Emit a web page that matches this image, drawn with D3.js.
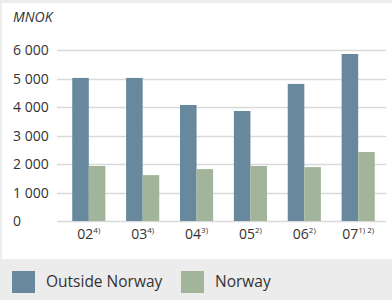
<!DOCTYPE html>
<html>
<head>
<meta charset="utf-8">
<script src="https://cdn.jsdelivr.net/npm/d3@7"></script>
<style>
	body { margin: 0; background: #ececec; }
	svg { display: block; font-family: "Open Sans", "Noto Sans", sans-serif; }
</style>
</head>
<body>
<div id="chart"></div>
<script>
const years = ["02", "03", "04", "05", "06", "07"]
const notes = ["4)", "4)", "3)", "2)", "2)", "1) 2)"]
const outsideNorway = [5020, 5020, 4070, 3860, 4810, 5860]
const norway = [1930, 1610, 1820, 1930, 1890, 2420]
const yTicks = [0, 1000, 2000, 3000, 4000, 5000, 6000]
const seriesNames = ["Outside Norway", "Norway"]
const colors = ["#67889d", "#a2b59a"]

const params = {
	width: 392,
	height: 300,
	plotLeft: 62,
	plotRight: 385,
	gridLeft: 57,
	gridRight: 386,
	top: 50,
	bottom: 221
}

const svg = d3.select("#chart")
	.append("svg")
	.attr("width", params.width)
	.attr("height", params.height)

// background panels
svg.append("rect")
	.attr("x", 0).attr("y", 0)
	.attr("width", params.width).attr("height", params.height)
	.attr("fill", "#ececec")
svg.append("rect")
	.attr("x", 2).attr("y", 3)
	.attr("width", params.width - 2).attr("height", 256)
	.attr("fill", "#ffffff")

const xScale = d3.scaleBand()
	.domain(years)
	.range([params.plotLeft, params.plotRight])
	.paddingInner(0.385)
	.paddingOuter(0.19)

const yScale = d3.scaleLinear()
	.domain([0, 6000])
	.range([params.bottom, params.top])

// gridlines
svg.append("g")
	.selectAll("line")
	.data(yTicks)
	.join("line")
	.attr("x1", params.gridLeft)
	.attr("x2", params.gridRight)
	.attr("y1", d => Math.round(yScale(d)) + 0.5)
	.attr("y2", d => Math.round(yScale(d)) + 0.5)
	.attr("stroke", "#d9d9d9")
	.attr("stroke-width", 1.5)

// y tick labels
svg.append("g")
	.selectAll("text")
	.data(yTicks)
	.join("text")
	.attr("x", 13)
	.attr("y", d => yScale(d) + 5)
	.attr("font-size", 14)
	.attr("fill", "#333")
	.text(d => d3.format(",")(d).replace(",", " "))

svg.append("text")
	.attr("x", 13)
	.attr("y", 22)
	.attr("font-size", 14)
	.attr("font-style", "italic")
	.attr("fill", "#333")
	.text("MNOK")

// bars
const sub = d3.scaleBand()
	.domain([0, 1])
	.range([0, xScale.bandwidth()])

const series = [outsideNorway, norway]
series.forEach((vals, s) => {
	svg.append("g")
		.selectAll("rect")
		.data(vals)
		.join("rect")
		.attr("x", (d, i) => xScale(years[i]) + sub(s))
		.attr("width", sub.bandwidth())
		.attr("y", d => yScale(d))
		.attr("height", d => yScale(0) - yScale(d))
		.attr("fill", colors[s])
})

// x labels with superscript notes
const xl = svg.append("g")
	.selectAll("text")
	.data(years)
	.join("text")
	.attr("x", d => xScale(d) + xScale.bandwidth() / 2)
	.attr("y", 239)
	.attr("font-size", 14)
	.attr("fill", "#333")
	.attr("text-anchor", "middle")
xl.append("tspan").text(d => d)
xl.append("tspan")
	.attr("font-size", 8)
	.attr("dy", -6)
	.text((d, i) => notes[i])

// legend
const legend = svg.append("g")
	.selectAll("g")
	.data(seriesNames)
	.join("g")
	.attr("transform", (d, i) => `translate(${[12, 181][i]}, 271)`)
legend.append("rect")
	.attr("width", 23)
	.attr("height", 22)
	.attr("fill", (d, i) => colors[i])
legend.append("text")
	.attr("x", 34)
	.attr("y", 16)
	.attr("font-size", 15.5)
	.attr("fill", "#333")
	.text(d => d)
</script>
</body>
</html>
